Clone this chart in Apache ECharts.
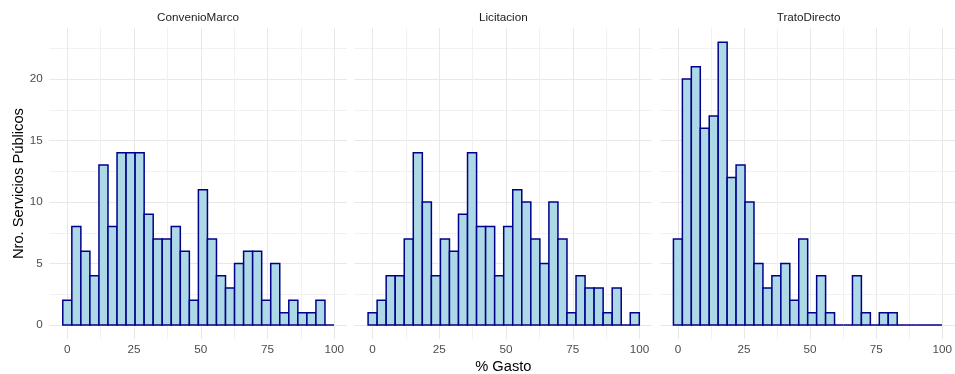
<!DOCTYPE html>
<html>
<head>
<meta charset="utf-8">
<script src="https://cdn.jsdelivr.net/npm/echarts@6/dist/echarts.min.js"></script>
<style>html,body{margin:0;padding:0;background:#fff;}#chart{width:955px;height:374px;}</style>
</head>
<body>
<div id="chart"></div>
<script>
// ---- data ----
const categories = ['ConvenioMarco', 'Licitacion', 'TratoDirecto'];
const convenioMarco = [2,8,6,4,13,8,14,14,14,9,7,7,8,6,2,11,7,4,3,5,6,6,2,5,1,2,1,1,2,0];
const licitacion    = [1,2,4,4,7,14,10,4,7,6,9,14,8,8,4,8,11,10,7,5,10,7,1,4,3,3,1,3,0,1];
const tratoDirecto  = [7,20,21,16,17,23,12,13,10,5,3,4,5,2,7,1,4,1,0,0,4,1,0,1,1,0,0,0,0,0];
const binStart = -1.69;   // left edge of first bin (% Gasto)
const binWidth = 3.386;   // bin width (% Gasto)
const xTicks = [0, 25, 50, 75, 100];
const yTicks = [0, 5, 10, 15, 20];
const xTitle = '% Gasto';
const yTitle = 'Nro. Servicios Públicos';

// ---- layout ----
const seriesCounts = [convenioMarco, licitacion, tratoDirecto];
const FONT = 'Liberation Sans, Arial, Helvetica, sans-serif';
const panelLeft = [49.3, 354.6, 659.9];
const panelW = 297.5;
const x0Off = 18.0, xSpan = 267.0;      // pixel offset of x=0 and width of 0..100
const panelTop = 28, panelBottom = 339.1;
const yZero = 325, yUnit = 12.3;

const chart = echarts.init(document.getElementById('chart'), null, {renderer: 'canvas'});
const grids = [], xAxes = [], yAxes = [], series = [], graphics = [];

categories.forEach((cat, k) => {
  const L = panelLeft[k];
  grids.push({left: L + x0Off, width: xSpan, top: panelTop, height: panelBottom - panelTop, containLabel: false});
  grids.push({left: L, width: panelW, top: yZero - 22.5 * yUnit, height: 22.5 * yUnit, containLabel: false});
  const gV = 2 * k, gH = 2 * k + 1;

  xAxes.push({
    gridIndex: gV, type: 'value', min: 0, max: 100, interval: 12.5,
    axisLine: {show: false}, axisTick: {show: false},
    axisLabel: {
      color: '#4D4D4D', fontSize: 11.7, fontFamily: FONT, margin: 5,
      formatter: v => xTicks.indexOf(v) >= 0 ? String(v) : ''
    },
    splitLine: {show: true, lineStyle: {color: ['#E8E8E8', '#F1F1F1'], width: 1}}
  });
  yAxes.push({
    gridIndex: gV, type: 'value', min: -1.15, max: 24.15, show: false,
    splitLine: {show: false}
  });
  xAxes.push({gridIndex: gH, type: 'value', min: 0, max: 1, show: false, splitLine: {show: false}});
  yAxes.push({
    gridIndex: gH, type: 'value', min: 0, max: 22.5, interval: 2.5,
    axisLine: {show: false}, axisTick: {show: false},
    axisLabel: {
      show: k === 0, color: '#4D4D4D', fontSize: 11.7, fontFamily: FONT, margin: 6.5,
      formatter: v => yTicks.indexOf(v) >= 0 ? String(v) : ''
    },
    splitLine: {show: true, lineStyle: {color: ['#E8E8E8', '#F1F1F1'], width: 1}}
  });

  const data = seriesCounts[k].map((c, i) => [binStart + i * binWidth, binStart + (i + 1) * binWidth, c]);
  series.push({
    type: 'custom', name: cat, xAxisIndex: gV, yAxisIndex: gV, clip: false,
    encode: {x: [0, 1], y: 2},
    data: data,
    renderItem: function (params, api) {
      const a = api.coord([api.value(0), api.value(2)]);
      const b = api.coord([api.value(1), 0]);
      return {
        type: 'rect',
        shape: {x: a[0], y: a[1], width: b[0] - a[0], height: b[1] - a[1]},
        style: {fill: '#ADD8E6', stroke: '#00008B', lineWidth: 1.5}
      };
    }
  });

  graphics.push({
    type: 'text', x: L + panelW / 2, y: 17.3,
    style: {text: cat, fill: '#1A1A1A', font: '11.7px ' + FONT, textAlign: 'center', textVerticalAlign: 'middle'}
  });
});

graphics.push({
  type: 'text', x: (panelLeft[0] + panelLeft[2] + panelW) / 2, y: 366.5,
  style: {text: xTitle, fill: '#000', font: '14.7px ' + FONT, textAlign: 'center', textVerticalAlign: 'middle'}
});
graphics.push({
  type: 'text', x: 18.5, y: (panelTop + panelBottom) / 2, rotation: Math.PI / 2,
  style: {text: yTitle, fill: '#000', font: '14.7px ' + FONT, textAlign: 'center', textVerticalAlign: 'middle'}
});

chart.setOption({
  animation: false,
  backgroundColor: '#FFFFFF',
  grid: grids, xAxis: xAxes, yAxis: yAxes, series: series,
  graphic: graphics
});
</script>
</body>
</html>
